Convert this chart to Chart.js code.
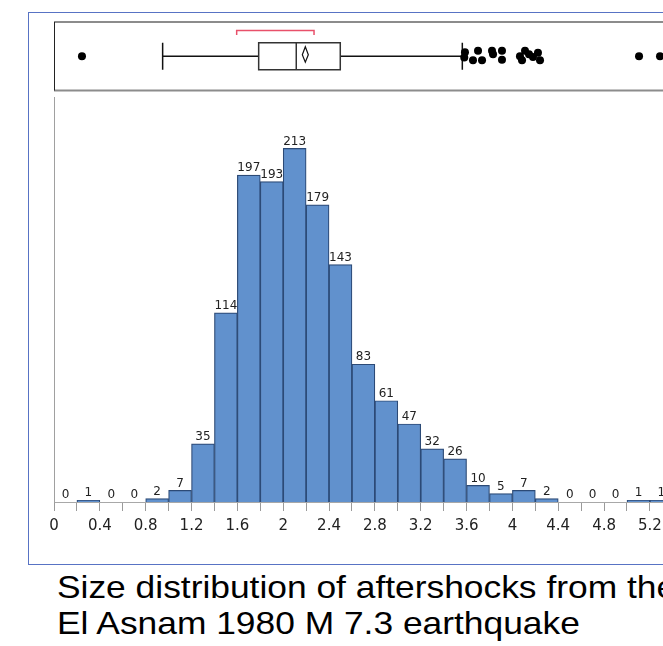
<!DOCTYPE html>
<html>
<head>
<meta charset="utf-8">
<script src="https://cdn.jsdelivr.net/npm/chart.js@4.4.1/dist/chart.umd.min.js"></script>
<style>
  html, body { margin: 0; padding: 0; width: 663px; height: 646px; overflow: hidden; background: #fff; }
  #frame { position: absolute; left: 28px; top: 12px; width: 700px; height: 551px; border: 1.5px solid #5873c4; box-sizing: content-box; }
  canvas { position: absolute; left: 0; top: 0; }
  #title { position: absolute; left: 57px; top: 569px; font-family: "Liberation Sans", Arial, sans-serif; font-size: 32px; line-height: 36px; color: #000; white-space: nowrap; transform: scaleX(1.105); transform-origin: left top; }
</style>
</head>
<body>
<div id="frame"></div>
<canvas id="box" width="720" height="100"></canvas>
<canvas id="hist" width="720" height="560"></canvas>
<div id="title">Size distribution of aftershocks from the<br>El Asnam 1980 M 7.3 earthquake</div>
<script>
// ---- Data ----
const binLower = [0, 0.2, 0.4, 0.6, 0.8, 1.0, 1.2, 1.4, 1.6, 1.8, 2.0, 2.2, 2.4, 2.6, 2.8, 3.0, 3.2, 3.4, 3.6, 3.8, 4.0, 4.2, 4.4, 4.6, 4.8, 5.0, 5.2];
const binWidth = 0.2;
const counts = [0, 1, 0, 0, 2, 7, 35, 114, 197, 193, 213, 179, 143, 83, 61, 47, 32, 26, 10, 5, 7, 2, 0, 0, 0, 1, 1];
const tickLabelStep = 0.4;

// Box plot summary (magnitude)
const boxStats = { whiskerLow: 0.948, q1: 1.786, median: 2.114, q3: 2.498, whiskerHigh: 3.563, mean: 2.193 };
const shortestHalf = [1.594, 2.269];
// Outliers: magnitude and vertical jitter (0..1 within the box plot band)
const outlierX = [0.244, 3.580, 3.586, 3.656, 3.700, 3.735, 3.822, 3.831, 3.909, 3.909, 4.066, 4.084, 4.110, 4.145, 4.180, 4.223, 4.241, 5.105, 5.288];
const outlierJitter = [0.5, 0.48, 0.56, 0.44, 0.58, 0.44, 0.58, 0.53, 0.58, 0.45, 0.5, 0.44, 0.58, 0.53, 0.49, 0.55, 0.44, 0.5, 0.5];

const X_MIN = 0, X_MAX = 5.6;
const PAD_LEFT = 54, PAD_RIGHT = 720 - (54 + 5.6 * 114.6);

// ---- Box plot chart ----
const boxPlugin = {
  id: 'boxPlot',
  beforeDatasetsDraw(chart) {
    const ctx = chart.ctx, xs = chart.scales.x, ys = chart.scales.y;
    const a = chart.chartArea;
    const px = v => xs.getPixelForValue(v);
    const cy = ys.getPixelForValue(0.5);
    const half = 13.5;
    ctx.save();
    // frame
    ctx.strokeStyle = '#8c8c8c'; ctx.lineWidth = 2;
    ctx.beginPath();
    ctx.moveTo(a.left, a.top); ctx.lineTo(a.right + 10, a.top);
    ctx.moveTo(a.left, a.bottom); ctx.lineTo(a.right + 10, a.bottom);
    ctx.stroke();
    ctx.strokeStyle = '#222'; ctx.lineWidth = 1;
    ctx.beginPath(); ctx.moveTo(a.left + 0.5, a.top); ctx.lineTo(a.left + 0.5, a.bottom); ctx.stroke();
    // whiskers
    ctx.strokeStyle = '#111'; ctx.lineWidth = 1.5;
    ctx.beginPath();
    ctx.moveTo(px(boxStats.whiskerLow), cy); ctx.lineTo(px(boxStats.q1), cy);
    ctx.moveTo(px(boxStats.q3), cy); ctx.lineTo(px(boxStats.whiskerHigh), cy);
    ctx.moveTo(px(boxStats.whiskerLow), cy - half); ctx.lineTo(px(boxStats.whiskerLow), cy + half);
    ctx.moveTo(px(boxStats.whiskerHigh), cy - half); ctx.lineTo(px(boxStats.whiskerHigh), cy + half);
    ctx.stroke();
    // box
    ctx.strokeStyle = '#333'; ctx.lineWidth = 1.5;
    ctx.fillStyle = '#fff';
    const bx = px(boxStats.q1), bw = px(boxStats.q3) - bx;
    ctx.fillRect(bx, cy - half, bw, 2 * half);
    ctx.strokeRect(bx, cy - half, bw, 2 * half);
    ctx.beginPath(); ctx.moveTo(px(boxStats.median), cy - half); ctx.lineTo(px(boxStats.median), cy + half); ctx.stroke();
    // mean diamond
    const mx = px(boxStats.mean);
    ctx.lineWidth = 1.2; ctx.strokeStyle = '#111';
    ctx.beginPath();
    ctx.moveTo(mx, cy - 9.5); ctx.lineTo(mx + 3, cy - 1.5); ctx.lineTo(mx, cy + 6); ctx.lineTo(mx - 3, cy - 1.5); ctx.closePath();
    ctx.stroke();
    // shortest half bracket
    const rY = a.top + 8.5;
    ctx.strokeStyle = '#e8506a'; ctx.lineWidth = 1.5;
    ctx.beginPath();
    ctx.moveTo(px(shortestHalf[0]), rY + 4.5); ctx.lineTo(px(shortestHalf[0]), rY);
    ctx.lineTo(px(shortestHalf[1]), rY); ctx.lineTo(px(shortestHalf[1]), rY + 4.5);
    ctx.stroke();
    ctx.restore();
  }
};

new Chart(document.getElementById('box'), {
  type: 'scatter',
  data: {
    datasets: [{
      data: outlierX.map((v, i) => ({ x: v, y: outlierJitter[i] })),
      pointRadius: 4,
      pointBackgroundColor: '#000',
      pointBorderColor: '#000',
      pointBorderWidth: 0
    }]
  },
  options: {
    responsive: false, animation: false,
    layout: { padding: { left: PAD_LEFT, right: PAD_RIGHT, top: 22, bottom: 9.5 } },
    plugins: { legend: { display: false }, tooltip: { enabled: false } },
    scales: {
      x: { type: 'linear', min: X_MIN, max: X_MAX, display: false },
      y: { min: 0, max: 1, display: false }
    }
  },
  plugins: [boxPlugin]
});

// ---- Histogram ----
const labelPlugin = {
  id: 'barLabels',
  afterDatasetsDraw(chart) {
    const ctx = chart.ctx, xs = chart.scales.x, ys = chart.scales.y;
    ctx.save();
    ctx.font = '12px "DejaVu Sans", sans-serif';
    ctx.fillStyle = '#222';
    ctx.textAlign = 'center';
    ctx.textBaseline = 'bottom';
    binLower.forEach((b, i) => {
      const x = xs.getPixelForValue(b + binWidth / 2);
      const y = ys.getPixelForValue(counts[i]);
      ctx.fillText(String(counts[i]), x, y - 1);
    });
    ctx.restore();
  }
};

new Chart(document.getElementById('hist'), {
  type: 'bar',
  data: {
    datasets: [{
      data: binLower.map((b, i) => ({ x: b + binWidth / 2, y: counts[i] })),
      backgroundColor: '#6191cd',
      borderColor: '#2c4a76',
      borderWidth: 1.2,
      borderSkipped: 'bottom',
      barPercentage: 1,
      categoryPercentage: 1
    }]
  },
  options: {
    responsive: false, animation: false,
    layout: { padding: { left: PAD_LEFT, right: PAD_RIGHT, top: 97, bottom: 18 } },
    plugins: { legend: { display: false }, tooltip: { enabled: false } },
    scales: {
      x: {
        type: 'linear', min: X_MIN, max: X_MAX, offset: false,
        grid: { display: true, offset: false, drawOnChartArea: false, drawTicks: true, tickLength: 9, color: '#9a9a9a' },
        border: { display: true, color: '#a8a8a8', width: 1 },
        ticks: {
          stepSize: 0.2, autoSkip: false, maxRotation: 0, padding: 6,
          color: '#222', font: { family: '"DejaVu Sans", sans-serif', size: 15 },
          callback: v => {
            const r = v / tickLabelStep;
            return Math.abs(r - Math.round(r)) < 1e-6 ? String(Number(v.toFixed(1))) : '';
          }
        },
        afterFit: s => { s.paddingLeft = 0; s.paddingRight = 0; s.height = 40; }
      },
      y: {
        min: 0, max: 244,
        grid: { display: false },
        border: { display: true, color: '#a0a0a0', width: 1 },
        ticks: { display: false },
        afterFit: s => { s.width = 0; }
      }
    }
  },
  plugins: [labelPlugin]
});
</script>
</body>
</html>
